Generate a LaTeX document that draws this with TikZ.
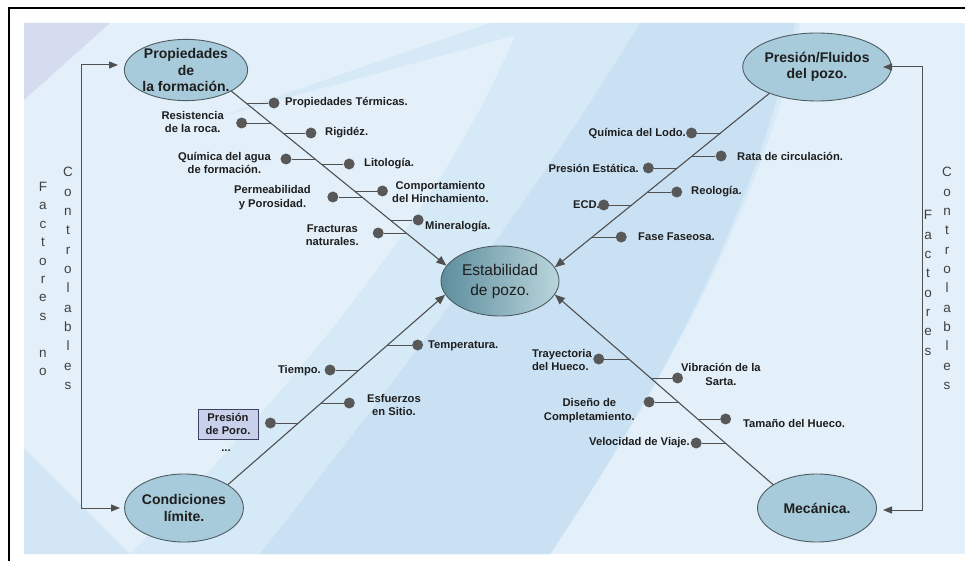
\documentclass[tikz,border=0pt]{standalone}
\usepackage{fontspec}
\setmainfont{Liberation Sans}
\usetikzlibrary{arrows.meta,shapes.geometric}
\definecolor{bgbase}{HTML}{E3F0FA}
\definecolor{bgbandA}{HTML}{D6E9F7}
\definecolor{bgband}{HTML}{CAE1F3}
\definecolor{bglav}{HTML}{D6DCEF}
\definecolor{bgcorner}{HTML}{D3E6F5}
\definecolor{ellfill}{HTML}{A7CBDA}
\definecolor{ellline}{HTML}{4E5D63}
\definecolor{estabD}{HTML}{5E8E9D}
\definecolor{estabL}{HTML}{BAD5DC}
\definecolor{linec}{HTML}{505050}
\definecolor{dotc}{HTML}{585858}
\definecolor{txt}{HTML}{1E1E1E}
\definecolor{boxfill}{HTML}{C8D0EC}
\definecolor{boxline}{HTML}{3C4260}
\newcommand\fishbranch[4]{%
  \coordinate (#4b) at (intersection of s#1--e#1 and 0,#2--10,#2);
  \node[bdot] (#4d) at ([xshift=#3pt]#4b) {};
  \draw[stub] (#4b) -- (#4d);
}
\begin{document}
\begin{tikzpicture}[x=1pt,y=-1pt,
  ell/.style={ellipse, draw=ellline, line width=0.9pt, fill=ellfill, inner sep=0pt, align=center, text=txt, font=\bfseries\fontsize{14}{16.5}\selectfont},
  mainarrow/.style={draw=linec, line width=1.1pt, -{Triangle[length=10pt,width=8pt]}},
  sidearrow/.style={draw=linec, line width=1pt, {Triangle[length=9pt,width=7pt]}-{Triangle[length=9pt,width=7pt]}},
  stub/.style={draw=linec, line width=0.9pt},
  bdot/.style={circle, fill=dotc, inner sep=0pt, minimum size=11pt},
  lbl/.style={inner sep=0pt, text=txt, font=\bfseries\fontsize{11.2}{13.5}\selectfont, align=center},
  vtext/.style={inner sep=0pt, text=black!75, align=center}
]
\useasboundingbox (0,0) rectangle (965,561);
% background
\fill[white] (0,0) rectangle (965,561);
\fill[bgbase] (24,23) rectangle (965,554);
\fill[bgbandA] (130,554) .. controls (300,380) and (450,200) .. (520,23) -- (800,23) .. controls (770,180) and (680,360) .. (550,554) -- cycle;
\fill[bgband] (260,554) .. controls (380,400) and (520,220) .. (640,23) -- (795,23) .. controls (765,180) and (680,360) .. (550,554) -- cycle;
\fill[bglav] (24,23) -- (110,23) -- (24,100) -- cycle;
\fill[bgcorner] (24,448) -- (130,554) -- (24,554) -- cycle;
\fill[bgbandA] (215,118) -- (490,23) -- (560,23) -- cycle;
% frame
\draw[line width=2pt] (9,561) -- (9,8) -- (965,8);

% ellipses
\node[ell, minimum width=122pt, minimum height=60pt] (prop) at (186,70) {Propiedades\\de\\la formación.};
\node[ell, minimum width=119pt, minimum height=68pt] (pres) at (817,67) {Presión/Fluidos\\del pozo.};
\node[ell, minimum width=118pt, minimum height=68pt] (cond) at (184,508) {Condiciones\\límite.};
\node[ell, minimum width=119pt, minimum height=68pt] (mec) at (817,508) {Mecánica.};
\node[ellipse, draw=ellline, line width=0.9pt, inner sep=0pt, minimum width=118pt, minimum height=70pt,
      left color=estabD, right color=estabL, align=center, text=txt,
      font=\fontsize{15.5}{20}\selectfont] (estab) at (500,281) {Estabilidad\\de pozo.};

% main connectors
\coordinate (s1) at (prop.-25);  \coordinate (e1) at (estab.164);
\coordinate (s2) at (pres.-151); \coordinate (e2) at (estab.14);
\coordinate (s3) at (cond.28);   \coordinate (e3) at (estab.-166);
\coordinate (s4) at (mec.152);   \coordinate (e4) at (estab.-14);
\draw[mainarrow] (s1) -- (e1);
\draw[mainarrow] (s2) -- (e2);
\draw[mainarrow] (s3) -- (e3);
\draw[mainarrow] (s4) -- (e4);

% side connectors
\coordinate (la) at (118,65); \coordinate (lt) at (81,65);
\coordinate (lb) at (81,508); \coordinate (lc) at (120,508);
\draw[sidearrow] (la) -- (lt) -- (lb) -- (lc);
\coordinate (ra) at (883,67); \coordinate (rt) at (922,67);
\coordinate (rb) at (922,510); \coordinate (rc) at (883,510);
\draw[sidearrow] (ra) -- (rt) -- (rb) -- (rc);

% vertical texts
\node[vtext, font=\fontsize{13.5}{18.4}\selectfont] (fno) at (43,279) {F\\a\\c\\t\\o\\r\\e\\s\\[18.4pt]n\\o};
\node[vtext, font=\fontsize{13.5}{19.3}\selectfont] (cl) at (68,278.5) {C\\o\\n\\t\\r\\o\\l\\a\\b\\l\\e\\s};
\node[vtext, font=\fontsize{13.5}{19.36}\selectfont] (fr) at (928,283) {F\\a\\c\\t\\o\\r\\e\\s};
\node[vtext, font=\fontsize{13.5}{19.3}\selectfont] (cr) at (947,278.5) {C\\o\\n\\t\\r\\o\\l\\a\\b\\l\\e\\s};

% line 1 branches
\fishbranch{1}{103}{28}{a1}
\fishbranch{1}{123}{-29}{a2}
\fishbranch{1}{133}{28}{a3}
\fishbranch{1}{159}{-29}{a4}
\fishbranch{1}{164}{28}{a5}
\fishbranch{1}{197}{-29}{a6}
\fishbranch{1}{191}{28}{a7}
\fishbranch{1}{220}{28}{a8}
\fishbranch{1}{233}{-28}{a9}
\node[lbl, anchor=west] (ta1) at (285,103) {Propiedades Térmicas.};
\node[lbl, anchor=east] (ta2) at (224,122) {Resistencia\\de la roca.};
\node[lbl, anchor=west] (ta3) at (325,133) {Rigidéz.};
\node[lbl, anchor=east] (ta4) at (271,163) {Química del agua\\de formación.};
\node[lbl, anchor=west] (ta5) at (364,164) {Litología.};
\node[lbl, anchor=east] (ta6) at (311,197.5) {Permeabilidad\\y Porosidad.};
\node[lbl, anchor=west] (ta7) at (392,192) {Comportamiento\\del Hinchamiento.};
\node[lbl, anchor=west] (ta8) at (425,227) {Mineralogía.};
\node[lbl, anchor=east] (ta9) at (359,235) {Fracturas\\naturales.};

% line 2 branches
\fishbranch{2}{133}{-29}{b1}
\fishbranch{2}{156}{29}{b2}
\fishbranch{2}{168}{-29}{b3}
\fishbranch{2}{192}{29}{b4}
\fishbranch{2}{205}{-28}{b5}
\fishbranch{2}{237}{29}{b6}
\node[lbl, anchor=east] (tb1) at (686,133) {Química del Lodo.};
\node[lbl, anchor=west] (tb2) at (737,156) {Rata de circulación.};
\node[lbl, anchor=east] (tb3) at (639,168) {Presión Estática.};
\node[lbl, anchor=west] (tb4) at (691,192) {Reología.};
\node[lbl, anchor=east] (tb5) at (600,205) {ECD.};
\node[lbl, anchor=west] (tb6) at (638,237) {Fase Faseosa.};

% line 3 branches
\fishbranch{3}{345}{30}{c1}
\fishbranch{3}{370}{-29}{c2}
\fishbranch{3}{403}{28}{c3}
\fishbranch{3}{423}{-28}{c4}
\node[lbl, anchor=west] (tc1) at (428,346) {Temperatura.};
\node[lbl, anchor=east] (tc2) at (321,371) {Tiempo.};
\node[lbl, anchor=west] (tc3) at (367,405) {Esfuerzos\\en Sitio.};
\node[lbl, draw=boxline, line width=0.9pt, fill=boxfill, minimum width=60pt, minimum height=30pt] (tc4) at (228,424) {Presión\\de Poro.};
\node[lbl] (tc5) at (226,451) {...};

% line 4 branches
\fishbranch{4}{359}{-30}{d1}
\fishbranch{4}{378}{27}{d2}
\fishbranch{4}{402}{-29}{d3}
\fishbranch{4}{419}{28}{d4}
\fishbranch{4}{443}{-29}{d5}
\node[lbl, anchor=east, align=left] (td1) at (592,360) {Trayectoria\\del Hueco.};
\node[lbl, anchor=west] (td2) at (681,374.5) {Vibración de la\\Sarta.};
\node[lbl, anchor=east] (td3) at (635,410.5) {Diseño de\\Completamiento.};
\node[lbl, anchor=west] (td4) at (743,423) {Tamaño del Hueco.};
\node[lbl, anchor=east] (td5) at (690,443) {Velocidad de Viaje.};
\end{tikzpicture}
\end{document}
